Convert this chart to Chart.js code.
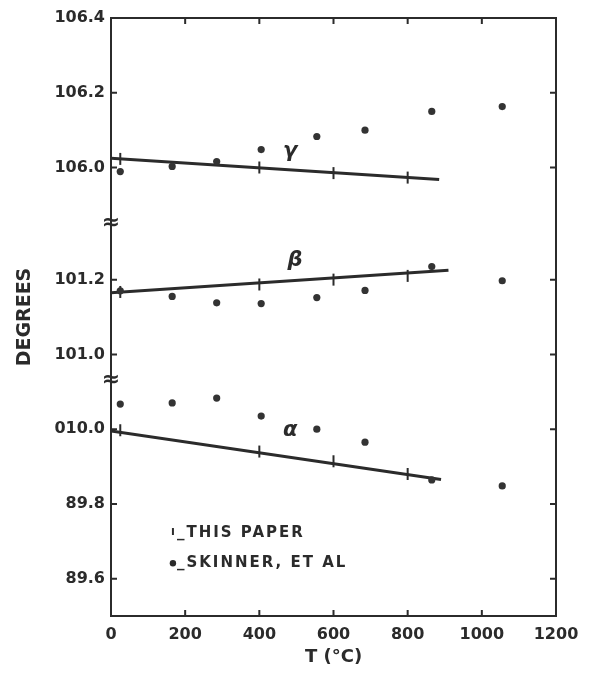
<!DOCTYPE html>
<html>
<head>
<meta charset="utf-8">
<script src="https://cdn.jsdelivr.net/npm/chart.js@4.4.1/dist/chart.umd.min.js"></script>
<style>
  html, body { margin: 0; padding: 0; background: #fff; }
  #wrap { width: 592px; height: 676px; }
</style>
</head>
<body>
<div id="wrap"><canvas id="grafico"></canvas></div>
<script>
// Skinner et al. (dots)
const skinnerT = [25, 165, 285, 405, 555, 685, 865, 1055];
const skinnerAlpha = [90.067, 90.070, 90.083, 90.035, 90.000, 89.965, 89.864, 89.848];
const skinnerBeta = [101.170, 101.155, 101.138, 101.136, 101.152, 101.171, 101.235, 101.197];
const skinnerGamma = [105.989, 106.003, 106.016, 106.048, 106.083, 106.100, 106.150, 106.163];

// this paper (tick marks)
const paperT = [25, 400, 600, 800];
const paperAlpha = [89.997, 89.940, 89.914, 89.880];
const paperBeta = [101.167, 101.187, 101.200, 101.210];
const paperGamma = [106.023, 106.000, 105.985, 105.973];

// fitted lines (end points)
const fitAlphaT = [0, 890];
const fitAlpha = [89.995, 89.865];
const fitBetaT = [0, 910];
const fitBeta = [101.165, 101.225];
const fitGammaT = [0, 885];
const fitGamma = [106.025, 105.968];

// axis
const xTicks = [0, 200, 400, 600, 800, 1000, 1200];
const yTickValues = [89.6, 89.8, 90.0, 101.0, 101.2, 106.0, 106.2, 106.4];
const yTickLabels = ["89.6", "89.8", "010.0", "101.0", "101.2", "106.0", "106.2", "106.4"];

const INK = "#2b2b2b";
const FONT = "DejaVu Sans";

// eixo quebrado: cada ângulo tem seu próprio deslocamento
function toAxis(r) {
  if (r < 95) return r;
  if (r < 104) return r - 10.8;
  return r - 15.3;
}

function pares(ts, vs) {
  return ts.map((t, i) => ({ x: t, y: toAxis(vs[i]) }));
}

function linha(ts, vs) {
  return {
    type: "line",
    data: pares(ts, vs),
    borderColor: INK,
    borderWidth: 3,
    pointRadius: 0,
    fill: false,
    order: 3
  };
}

function marcas(ts, vs) {
  return {
    type: "scatter",
    data: pares(ts, vs),
    pointStyle: "line",
    rotation: 90,
    radius: 6,
    borderColor: INK,
    borderWidth: 2,
    order: 2
  };
}

function pontos(ts, vs) {
  return {
    type: "scatter",
    data: pares(ts, vs),
    pointStyle: "circle",
    radius: 3.6,
    backgroundColor: "#333",
    borderColor: "#333",
    borderWidth: 0,
    order: 1
  };
}

const moldura = {
  id: "moldura",
  afterDraw(chart) {
    const { ctx, chartArea: a, scales: { x, y } } = chart;
    ctx.save();
    ctx.strokeStyle = INK;
    ctx.lineWidth = 2;
    ctx.strokeRect(a.left, a.top, a.right - a.left, a.bottom - a.top);

    // ticks para dentro
    const len = 6;
    ctx.beginPath();
    xTicks.slice(1, -1).forEach(v => {
      const px = x.getPixelForValue(v);
      ctx.moveTo(px, a.bottom); ctx.lineTo(px, a.bottom - len);
      ctx.moveTo(px, a.top); ctx.lineTo(px, a.top + len);
    });
    yTickValues.slice(0, -1).forEach(v => {
      const py = y.getPixelForValue(toAxis(v));
      ctx.moveTo(a.left, py); ctx.lineTo(a.left + len, py);
      ctx.moveTo(a.right, py); ctx.lineTo(a.right - len, py);
    });
    ctx.stroke();

    // marcas de quebra do eixo
    ctx.fillStyle = INK;
    ctx.textAlign = "center";
    ctx.textBaseline = "middle";
    ctx.font = "bold 22px " + FONT;
    [90.13, 90.55].forEach(v => {
      ctx.fillText("≈", a.left, y.getPixelForValue(v));
    });

    // rótulos gregos
    ctx.font = "italic bold 21px " + FONT;
    ctx.fillText("γ", x.getPixelForValue(483), y.getPixelForValue(toAxis(106.043)));
    ctx.fillText("β", x.getPixelForValue(496), y.getPixelForValue(toAxis(101.251)));
    ctx.fillText("α", x.getPixelForValue(483), y.getPixelForValue(toAxis(89.997)));

    // legenda
    ctx.font = "bold 15px " + FONT;
    ctx.textAlign = "left";
    ctx.letterSpacing = "2px";
    const lx = x.getPixelForValue(167);
    const ly1 = y.getPixelForValue(89.722);
    const ly2 = y.getPixelForValue(89.641);
    ctx.lineWidth = 2;
    ctx.beginPath();
    ctx.moveTo(lx, ly1 - 5); ctx.lineTo(lx, ly1 + 2);
    ctx.stroke();
    ctx.fillText("_THIS PAPER", lx + 4, ly1);
    ctx.beginPath();
    ctx.arc(lx, ly2, 3.2, 0, Math.PI * 2);
    ctx.fill();
    ctx.fillText("_SKINNER, ET AL", lx + 4, ly2);
    ctx.restore();
  }
};

new Chart(document.getElementById("grafico"), {
  type: "scatter",
  data: {
    datasets: [
      linha(fitAlphaT, fitAlpha),
      linha(fitBetaT, fitBeta),
      linha(fitGammaT, fitGamma),
      marcas(paperT, paperAlpha),
      marcas(paperT, paperBeta),
      marcas(paperT, paperGamma),
      pontos(skinnerT, skinnerAlpha),
      pontos(skinnerT, skinnerBeta),
      pontos(skinnerT, skinnerGamma)
    ]
  },
  options: {
    responsive: true,
    maintainAspectRatio: false,
    animation: false,
    layout: { padding: { left: 0, top: 18, right: 36, bottom: 0 } },
    plugins: {
      legend: { display: false },
      tooltip: { enabled: false }
    },
    scales: {
      x: {
        type: "linear",
        min: 0,
        max: 1200,
        afterBuildTicks: s => { s.ticks = xTicks.map(v => ({ value: v })); },
        afterFit: s => { s.height = 60; },
        grid: { display: false, drawTicks: false },
        border: { display: false },
        ticks: {
          padding: 9,
          color: INK,
          font: { family: FONT, size: 16, weight: "bold" },
          callback: v => String(v)
        },
        title: {
          display: true,
          text: "T (°C)",
          color: INK,
          padding: { top: 0, bottom: 8 },
          font: { family: FONT, size: 18, weight: "bold" }
        }
      },
      y: {
        type: "linear",
        min: 89.5,
        max: 91.1,
        afterBuildTicks: s => { s.ticks = yTickValues.map(v => ({ value: toAxis(v) })); },
        afterFit: s => { s.width = 111; },
        grid: { display: false, drawTicks: false },
        border: { display: false },
        ticks: {
          padding: 6,
          color: INK,
          font: { family: FONT, size: 16, weight: "bold" },
          callback: (v, i) => yTickLabels[i]
        },
        title: {
          display: true,
          text: "DEGREES",
          color: INK,
          padding: { top: 14, bottom: 0 },
          font: { family: FONT, size: 19, weight: "bold" }
        }
      }
    }
  },
  plugins: [moldura]
});
</script>
</body>
</html>
